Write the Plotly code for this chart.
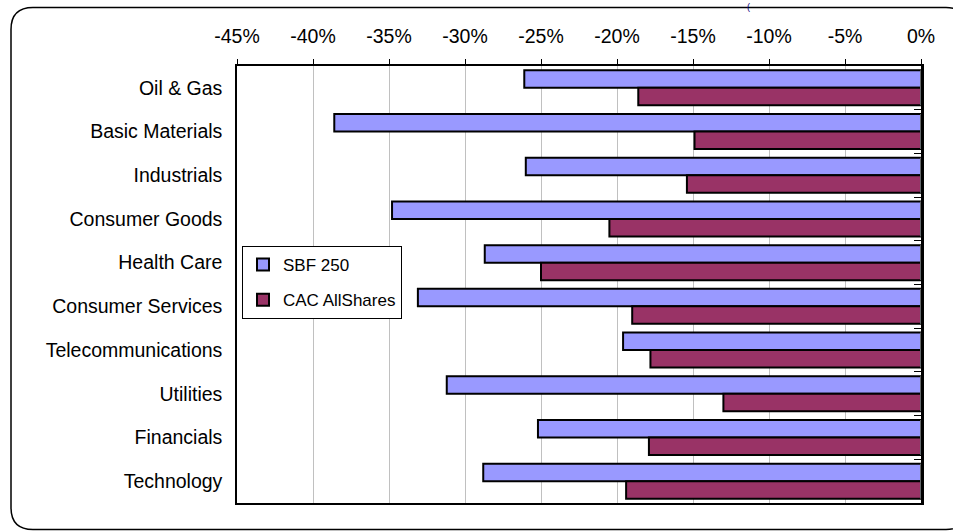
import plotly.graph_objects as go

categories = ["Oil & Gas", "Basic Materials", "Industrials", "Consumer Goods", "Health Care",
              "Consumer Services", "Telecommunications", "Utilities", "Financials", "Technology"]
sbf250 = [-26.1, -38.6, -26.0, -34.8, -28.7, -33.1, -19.6, -31.2, -25.2, -28.8]
cac_allshares = [-18.6, -14.9, -15.4, -20.5, -25.0, -19.0, -17.8, -13.0, -17.9, -19.4]
x_ticks = [-45, -40, -35, -30, -25, -20, -15, -10, -5, 0]
x_tick_labels = [f"{v}%" for v in x_ticks]

W, H = 953, 531
L, R, T, B = 237, 32, 66, 28
pw, ph = W - L - R, H - T - B

def px_x(x):
    return (x - L) / pw

def px_y(y):
    return (H - B - y) / ph

FONT = "Liberation Sans, Arial, sans-serif"

fig = go.Figure()
fig.add_trace(go.Bar(
    y=categories, x=sbf250, name="SBF 250", orientation="h",
    marker=dict(color="#9999FF", line=dict(color="black", width=2)),
    legendgroup="a",
))
fig.add_trace(go.Bar(
    y=categories, x=cac_allshares, name="CAC AllShares", orientation="h",
    marker=dict(color="#993366", line=dict(color="black", width=2)),
    legendgroup="b",
))
# invisible trace to carry the right-hand (zero) axis with boundary ticks
fig.add_trace(go.Bar(
    y=categories, x=[0] * len(categories), orientation="h", yaxis="y2",
    showlegend=False, hoverinfo="skip", marker=dict(color="rgba(0,0,0,0)"),
))

# rounded outer frame
x0, x1 = px_x(11), px_x(968)
y0, y1 = px_y(529.5), px_y(7.5)
rx, ry = 22 / pw, 22 / ph
path = (f"M {x0+rx},{y1} L {x1-rx},{y1} Q {x1},{y1} {x1},{y1-ry} "
        f"L {x1},{y0+ry} Q {x1},{y0} {x1-rx},{y0} "
        f"L {x0+rx},{y0} Q {x0},{y0} {x0},{y0+ry} "
        f"L {x0},{y1-ry} Q {x0},{y1} {x0+rx},{y1} Z")

fig.update_layout(
    width=W, height=H,
    margin=dict(l=L, r=R, t=T, b=B, pad=0),
    paper_bgcolor="white", plot_bgcolor="white",
    barmode="group", bargap=0.2, bargroupgap=0,
    font=dict(family=FONT, size=19.5, color="black"),
    showlegend=True,
    legend=dict(
        x=px_x(242), y=px_y(246), xanchor="left", yanchor="top",
        bgcolor="white", bordercolor="black", borderwidth=1,
        font=dict(size=17, family=FONT), tracegroupgap=10,
        itemwidth=30,
    ),
    xaxis=dict(
        side="top", range=[-45, 0], tickvals=x_ticks, ticktext=x_tick_labels,
        showgrid=True, gridcolor="#c0c0c0", gridwidth=1,
        showline=True, linecolor="black", linewidth=1.5, mirror=True,
        ticks="outside", ticklen=5, tickcolor="black",
        zeroline=False, ticklabelstandoff=8,
        tickfont=dict(size=19.5),
    ),
    yaxis=dict(
        autorange="reversed", type="category",
        showline=True, linecolor="black", linewidth=1.5,
        ticks="", showgrid=False, ticklabelstandoff=9,
        tickfont=dict(size=19.5),
    ),
    yaxis2=dict(
        overlaying="y", side="right", autorange="reversed", type="category",
        showticklabels=False, ticks="inside", tickson="boundaries", ticklen=7,
        tickcolor="black", showline=True, linecolor="black", linewidth=2.5,
        showgrid=False,
    ),
    shapes=[dict(type="path", path=path, xref="paper", yref="paper",
                 line=dict(color="black", width=1.5), layer="above")],
    annotations=[dict(text="(", x=px_x(748), y=px_y(0), xref="paper", yref="paper",
                      showarrow=False, font=dict(size=9, color="#000080", family=FONT),
                      xanchor="center", yanchor="top")],
)

fig.write_html("out.html", config={"displayModeBar": False},
               post_script="document.body.style.margin='0';document.body.style.padding='0';")
